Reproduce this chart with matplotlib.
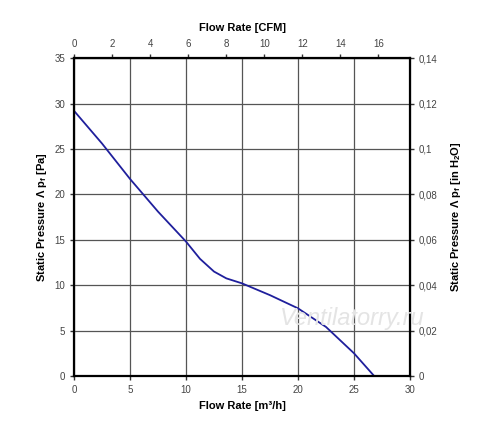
import matplotlib
matplotlib.use("Agg")
import matplotlib.pyplot as plt
from matplotlib.ticker import FuncFormatter, MultipleLocator

plt.rcParams['font.family'] = ['Liberation Sans', 'DejaVu Sans']

# fan curve: flow [m3/h] vs static pressure [Pa]
flow = [0, 2.5, 5, 7.5, 10, 11.25, 12.5, 13.6, 15, 17.5, 20, 22.5, 25, 26.8]
pressure = [29.2, 25.6, 21.7, 18.1, 14.8, 12.9, 11.5, 10.75, 10.2, 8.9, 7.45, 5.4, 2.5, 0]

cfm_ticks = [0, 2, 4, 6, 8, 10, 12, 14, 16]
inh2o_ticks = [0, 0.02, 0.04, 0.06, 0.08, 0.1, 0.12, 0.14]

M3H_TO_CFM = 0.5886
PA_TO_INH2O = 0.14 / 35

def comma(v, pos):
    s = ('%.2f' % v).rstrip('0').rstrip('.')
    return s.replace('.', ',')

fig = plt.figure(figsize=(5, 4.37), dpi=100)
ax = fig.add_axes([0.148, 0.1396, 0.672, 0.7274])

ax.plot(flow, pressure, color='#1f1f9c', lw=1.3)

ax.set_xlim(0, 30)
ax.set_ylim(0, 35)
ax.xaxis.set_major_locator(MultipleLocator(5))
ax.yaxis.set_major_locator(MultipleLocator(5))
ax.grid(True, color='#555555', lw=0.9)
for s in ax.spines.values():
    s.set_linewidth(1.6)
ax.tick_params(labelsize=7, colors='#333333', labelcolor='#444444', length=3, width=1)

ax.set_xlabel('Flow Rate [m³/h]', fontsize=8, fontweight='bold')
ax.set_ylabel(r'Static Pressure Λ p$_\mathregular{f}$ [Pa]', fontsize=8, fontweight='bold')

top = ax.secondary_xaxis('top', functions=(lambda x: x * M3H_TO_CFM, lambda c: c / M3H_TO_CFM))
top.set_xticks(cfm_ticks)
top.tick_params(labelsize=7, colors='#333333', labelcolor='#444444', length=3, width=1)
top.set_xlabel('Flow Rate [CFM]', fontsize=8, fontweight='bold', labelpad=6)

right = ax.secondary_yaxis('right', functions=(lambda p: p * PA_TO_INH2O, lambda h: h / PA_TO_INH2O))
right.set_yticks(inh2o_ticks)
right.yaxis.set_major_formatter(FuncFormatter(comma))
right.tick_params(labelsize=7, colors='#333333', labelcolor='#444444', length=3, width=1)
right.set_ylabel(r'Static Pressure Λ p$_\mathregular{f}$ [in H$_\mathregular{2}$O]',
                 fontsize=8, fontweight='bold', labelpad=8)

# watermark
ax.text(0.827, 0.182, 'Ventilatorry.ru', transform=ax.transAxes, ha='center', va='center',
        fontsize=17, style='italic', color='#e4e4e4', clip_on=False, zorder=5)

fig.savefig('out.png', dpi=100)
